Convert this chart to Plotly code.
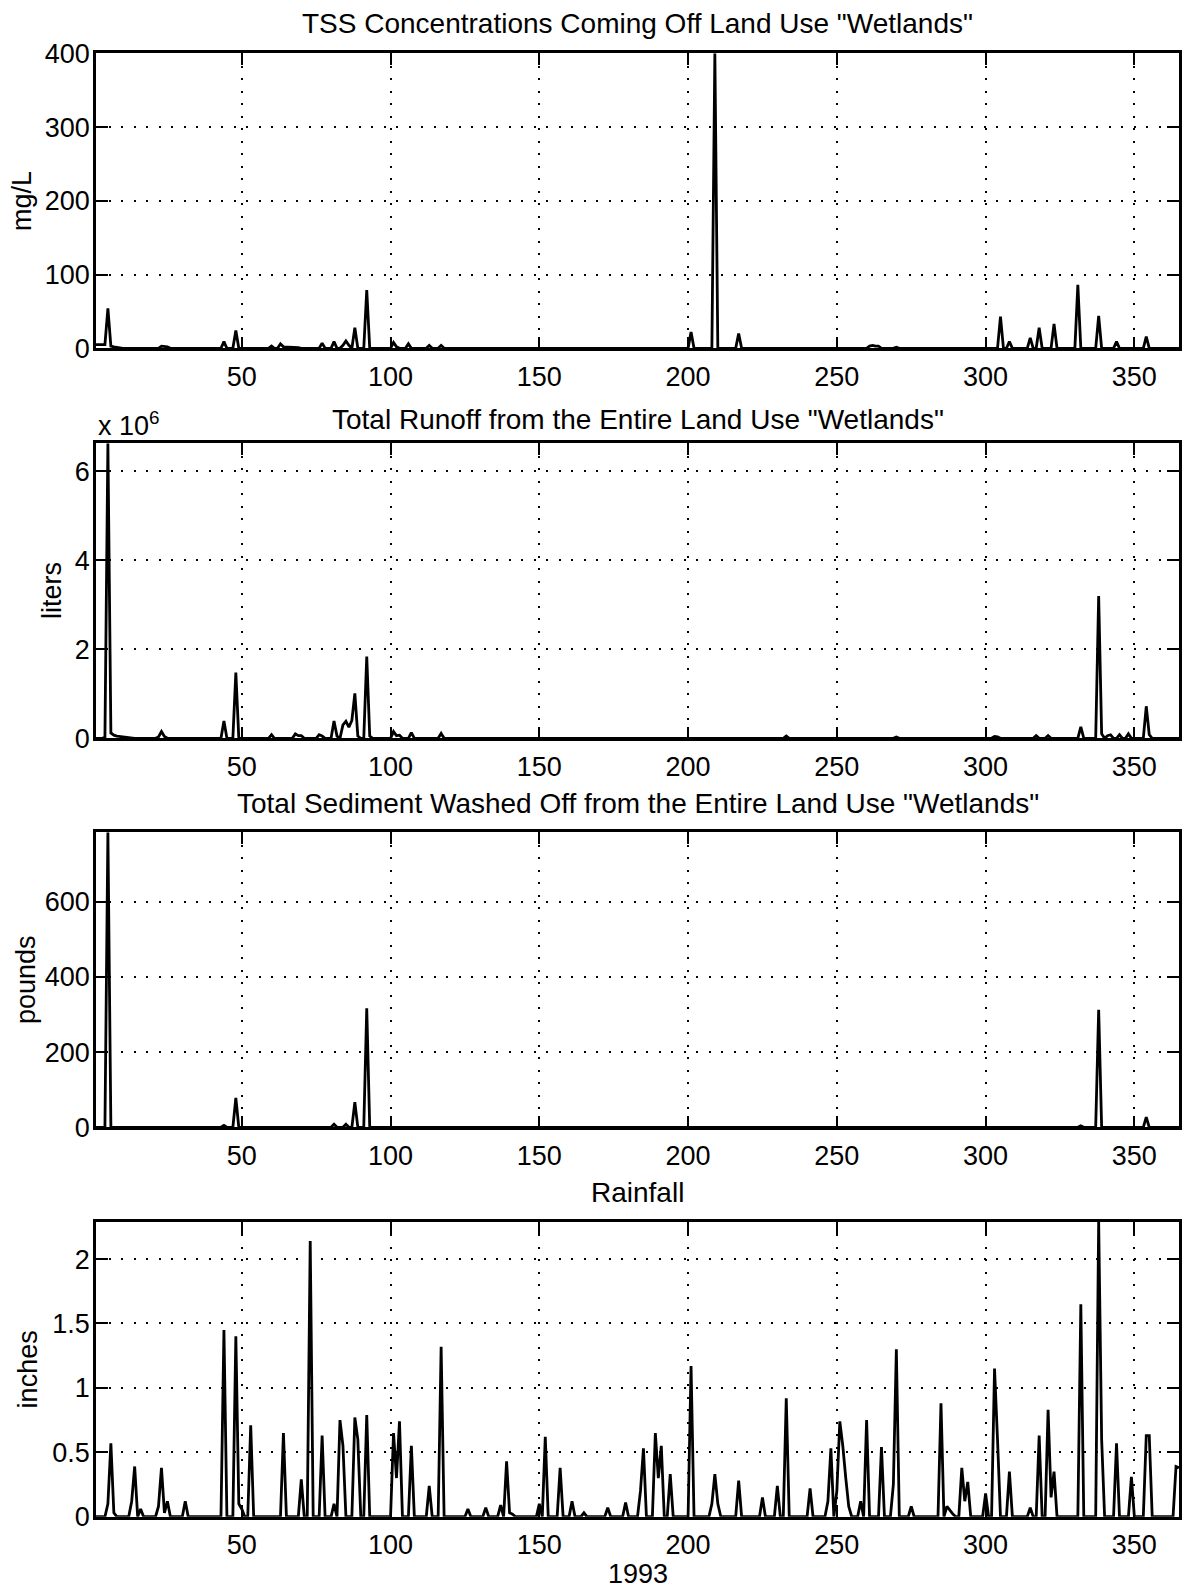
import numpy as np
import plotly.graph_objects as go

# ---------------------------------------------------------------------------
# Daily series for 1993 (day of year, value); days not listed are zero.
# ---------------------------------------------------------------------------
N_DAYS = 365

tss_mg_per_l = [
    (1, 5), (2, 5), (3, 5), (4, 5), (5, 54), (6, 3), (7, 2), (8, 1),
    (23, 3), (24, 3), (25, 2), (44, 9), (48, 24), (60, 3), (63, 6), (64, 2),
    (65, 2), (66, 2), (67, 1), (68, 2), (69, 1), (77, 7), (81, 9), (84, 4),
    (85, 10), (86, 4), (88, 28), (92, 79), (101, 8), (102, 2), (106, 6),
    (113, 4), (117, 4), (201, 22), (209, 400), (217, 20), (261, 3), (262, 4),
    (263, 3), (264, 3), (270, 1.5), (305, 43), (308, 9), (315, 14), (318, 28),
    (323, 33), (331, 86), (338, 44), (344, 9), (354, 16),
]

runoff_million_liters = [
    (4, 0.02), (5, 6.63), (6, 0.12), (7, 0.07), (8, 0.05), (9, 0.04),
    (10, 0.03), (11, 0.02), (12, 0.01), (22, 0.03), (23, 0.15), (24, 0.04),
    (44, 0.39), (48, 1.475), (60, 0.08), (68, 0.10), (69, 0.06), (70, 0.06),
    (76, 0.08), (77, 0.05), (81, 0.39), (82, 0.05), (84, 0.30), (85, 0.38),
    (86, 0.25), (87, 0.40), (88, 1.01), (89, 0.05), (92, 1.835), (93, 0.05),
    (101, 0.15), (102, 0.06), (103, 0.07), (107, 0.13), (117, 0.11),
    (233, 0.05), (270, 0.03), (303, 0.04), (304, 0.03), (317, 0.06),
    (321, 0.06), (332, 0.26), (338, 3.2), (339, 0.10), (341, 0.06),
    (342, 0.08), (345, 0.08), (348, 0.10), (354, 0.72), (355, 0.08),
]

sediment_pounds = [
    (5, 785), (44, 5), (48, 78), (81, 8), (85, 8), (88, 67), (92, 317),
    (332, 4), (338, 313), (354, 27),
]

rainfall_inches = [
    (5, 0.10), (6, 0.57), (7, 0.03), (13, 0.12), (14, 0.39), (16, 0.06),
    (22, 0.08), (23, 0.38), (24, 0.03), (25, 0.12), (31, 0.12), (44, 1.45),
    (48, 1.40), (49, 0.10), (50, 0.06), (53, 0.71), (64, 0.65), (70, 0.29),
    (73, 2.14), (77, 0.63), (81, 0.10), (83, 0.75), (84, 0.55), (88, 0.77),
    (89, 0.60), (92, 0.79), (101, 0.65), (102, 0.30), (103, 0.74),
    (107, 0.55), (113, 0.24), (117, 1.32), (126, 0.06), (132, 0.07),
    (137, 0.09), (139, 0.43), (140, 0.03), (141, 0.02), (150, 0.10),
    (152, 0.62), (157, 0.38), (161, 0.12), (165, 0.03), (173, 0.07),
    (179, 0.11), (184, 0.20), (185, 0.53), (189, 0.65), (190, 0.30),
    (191, 0.55), (194, 0.33), (201, 1.17), (208, 0.10), (209, 0.33),
    (210, 0.10), (217, 0.28), (225, 0.15), (230, 0.24), (233, 0.92),
    (241, 0.22), (247, 0.12), (248, 0.53), (250, 0.20), (251, 0.74),
    (252, 0.55), (253, 0.30), (254, 0.08), (258, 0.12), (260, 0.75),
    (265, 0.54), (269, 0.25), (270, 1.30), (275, 0.08), (285, 0.88),
    (287, 0.08), (288, 0.05), (289, 0.02), (292, 0.38), (293, 0.12),
    (294, 0.27), (300, 0.18), (303, 1.15), (304, 0.60), (308, 0.35),
    (315, 0.07), (318, 0.63), (321, 0.83), (322, 0.15), (323, 0.35),
    (332, 1.65), (338, 2.29), (339, 0.60), (344, 0.57), (349, 0.31),
    (354, 0.63), (355, 0.63), (364, 0.39), (365, 0.38),
]

x_ticks = [50, 100, 150, 200, 250, 300, 350]
panel_titles = [
    'TSS Concentrations Coming Off Land Use "Wetlands"',
    'Total Runoff from the Entire Land Use "Wetlands"',
    'Total Sediment Washed Off from the Entire Land Use "Wetlands"',
    'Rainfall',
]
y_labels = ["mg/L", "liters", "pounds", "inches"]
y_ticks = [
    [0, 100, 200, 300, 400],
    [0, 2, 4, 6],
    [0, 200, 400, 600],
    [0, 0.5, 1, 1.5, 2],
]
y_ticktext = [
    ["0", "100", "200", "300", "400"],
    ["0", "2", "4", "6"],
    ["0", "200", "400", "600"],
    ["0", "0.5", "1", "1.5", "2"],
]
x_label = "1993"
runoff_exponent = "x 10<sup>6</sup>"


def daily(events):
    """Expand (day, value) events into a full-year daily series."""
    series = np.zeros(N_DAYS)
    for day, value in events:
        series[day - 1] = value
    return series


days = np.arange(1, N_DAYS + 1)
series_list = [daily(tss_mg_per_l), daily(runoff_million_liters),
               daily(sediment_pounds), daily(rainfall_inches)]

# ---------------------------------------------------------------------------
# Page geometry (pixels)
# ---------------------------------------------------------------------------
W, H = 1184, 1589
ML, MR, MT, MB = 96, 2, 53, 72
PW, PH = W - ML - MR, H - MT - MB
panel_top_px = [53.3, 443.3, 832.3, 1221.7]
panel_h_px = 295.0
title_y_px = [23.3, 419.0, 803.3, 1192.3]
ylabel_x_px = [22, 52, 26, 28]

FONT = "Liberation Sans, Arial, Helvetica, sans-serif"
TICK_SIZE = 27
TITLE_SIZE = 28


def px_x(px):
    return (px - ML) / PW


def px_y(py):
    return (H - MB - py) / PH


fig = go.Figure()
layout = dict(
    width=W, height=H,
    margin=dict(l=ML, r=MR, t=MT, b=MB, pad=0),
    paper_bgcolor="white", plot_bgcolor="white",
    showlegend=False,
    font=dict(family=FONT, size=TICK_SIZE, color="black"),
)

annotations = []
for i, series in enumerate(series_list):
    suffix = "" if i == 0 else str(i + 1)
    xa, ya = "x" + suffix, "y" + suffix
    fig.add_trace(go.Scatter(
        x=days, y=series, mode="lines",
        line=dict(color="black", width=2.8),
        xaxis=xa, yaxis=ya, hoverinfo="skip",
    ))

    top = panel_top_px[i]
    dom = [px_y(top + panel_h_px), px_y(top)]
    common = dict(
        showline=True, linecolor="black", linewidth=2.6, mirror="ticks",
        ticks="inside", ticklen=12, tickwidth=2.2, tickcolor="black",
        showgrid=True, gridcolor="black", gridwidth=1.8,
        griddash="2px,10.5px", zeroline=False,
        tickfont=dict(family=FONT, size=TICK_SIZE, color="black"),
    )
    layout["xaxis" + suffix] = dict(
        common, domain=[0, 1], anchor=ya, range=[1, N_DAYS],
        tickmode="array", tickvals=x_ticks,
        ticktext=[str(t) for t in x_ticks], ticklabelstandoff=2,
    )
    layout["yaxis" + suffix] = dict(
        common, domain=dom, anchor=xa, range=[0, float(series.max())],
        tickmode="array", tickvals=y_ticks[i], ticktext=y_ticktext[i],
        ticklabelstandoff=-2,
    )

    annotations.append(dict(
        text=panel_titles[i], x=0.5, y=px_y(title_y_px[i]),
        xref="paper", yref="paper", xanchor="center", yanchor="middle",
        showarrow=False, font=dict(family=FONT, size=TITLE_SIZE, color="black"),
    ))
    annotations.append(dict(
        text=y_labels[i], x=px_x(ylabel_x_px[i]),
        y=px_y(top + panel_h_px / 2),
        xref="paper", yref="paper", xanchor="center", yanchor="middle",
        textangle=-90, showarrow=False,
        font=dict(family=FONT, size=TICK_SIZE, color="black"),
    ))

annotations.append(dict(
    text=runoff_exponent, x=px_x(96), y=px_y(424),
    xref="paper", yref="paper", xanchor="left", yanchor="middle",
    showarrow=False, font=dict(family=FONT, size=TICK_SIZE, color="black"),
))
annotations.append(dict(
    text=x_label, x=0.5, y=px_y(1574),
    xref="paper", yref="paper", xanchor="center", yanchor="middle",
    showarrow=False, font=dict(family=FONT, size=TICK_SIZE, color="black"),
))

layout["annotations"] = annotations
fig.update_layout(**layout)
fig.write_html("out.html")
